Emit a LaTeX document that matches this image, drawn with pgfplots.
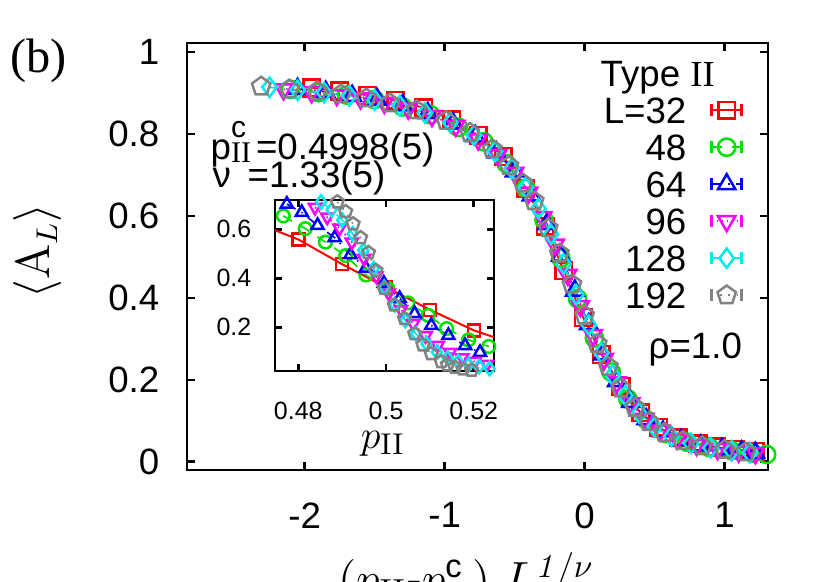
\documentclass[border=0pt]{standalone}
\usepackage{amsmath}
\usepackage[no-math]{fontspec}
\setmainfont{Liberation Sans}
\newfontfamily\serif{Liberation Serif}
\usepackage{pgfplots}
\pgfplotsset{compat=1.18}
\usetikzlibrary{plotmarks}
\definecolor{cR}{RGB}{255,0,0}
\definecolor{cG}{RGB}{0,225,0}
\definecolor{cB}{RGB}{0,0,255}
\definecolor{cM}{RGB}{255,0,255}
\definecolor{cC}{RGB}{0,235,235}
\definecolor{cK}{RGB}{130,130,130}
\pgfplotsset{
  sA/.style={color=cR, solid, line width=0.5pt, mark=square, mark options={solid, line width=0.75pt}},
  sB/.style={color=cG, dashed, line width=0.5pt, mark=o, mark options={solid, line width=0.75pt}},
  sC/.style={color=cB, dash dot, line width=0.5pt, mark=triangle, mark options={solid, line width=0.75pt}},
  sD/.style={color=cM, densely dotted, line width=0.5pt, mark=triangle, mark options={solid, line width=0.75pt, rotate=180}},
  sE/.style={color=cC, dashed, line width=0.5pt, mark=diamond, mark options={solid, line width=0.75pt}},
  sF/.style={color=cK, dotted, line width=0.5pt, mark=pentagon, mark options={solid, line width=0.75pt}},
}
\begin{document}
\begin{tikzpicture}[font=\fontsize{11}{13}\selectfont]
\begin{axis}[
  at={(0pt,0pt)}, anchor=south west,
  scale only axis, width=174.3pt, height=128.1pt,
  xmin=-2.84, xmax=1.31, ymin=-0.02, ymax=1.022,
  xtick={-2,-1,0,1}, ytick={0,0.2,0.4,0.6,0.8,1},
  /pgf/number format/assume math mode=true,
  axis line style={line width=0.8pt},
  major tick length=2.4pt,
  tick style={black, line width=0.8pt},
  xticklabel style={anchor=north, inner sep=0pt, yshift=-9.6pt},
  yticklabel style={anchor=east, inner sep=0pt, xshift=-8.1pt},
  legend plot pos=right,
  legend cell align=right,
  legend style={draw=none, fill=none, at={(0.957,0.8735)}, anchor=north east,
    inner sep=0pt, outer sep=0pt, row sep=3.2pt, column sep=7.2pt,
    nodes={inner sep=0pt, text height=7.9pt, text depth=0pt}},
  legend image code/.code={
    \draw[mark repeat=2,mark phase=2,#1] plot coordinates {(0pt,0pt) (4.5pt,0pt) (9pt,0pt)};
    \draw[#1,mark=none,solid,line width=0.8pt] (0pt,-1.8pt) -- (0pt,1.8pt) (9pt,-1.8pt) -- (9pt,1.8pt);
  },
]
\addplot[sA, mark size=2.5pt] coordinates {
(-1.95,0.912) (-1.75,0.905) (-1.55,0.894) (-1.35,0.882) (-1.15,0.864) (-0.95,0.834) (-0.76,0.797) (-0.58,0.745) (-0.42,0.667) (-0.28,0.575) (-0.15,0.466) (-0.01,0.352) (0.12,0.262) (0.26,0.184) (0.40,0.120) (0.53,0.084) (0.67,0.059) (0.81,0.044) (0.94,0.036) (1.08,0.030) (1.22,0.026)};
\addlegendentry{L=32}
\addplot[sB, mark size=2.6pt] coordinates {
(-2.10,0.909) (-1.90,0.901) (-1.70,0.895) (-1.50,0.884) (-1.30,0.866) (-1.10,0.847) (-0.90,0.816) (-0.72,0.781) (-0.56,0.728) (-0.42,0.668) (-0.29,0.590) (-0.17,0.497) (-0.05,0.398) (0.07,0.302) (0.19,0.219) (0.31,0.153) (0.44,0.103) (0.58,0.069) (0.73,0.048) (0.89,0.035) (1.05,0.027) (1.20,0.021) (1.30,0.018)};
\addlegendentry{48}
\addplot[sC, mark size=3.0pt] coordinates {
(-2.05,0.910) (-1.85,0.903) (-1.66,0.893) (-1.48,0.884) (-1.30,0.870) (-1.12,0.851) (-0.94,0.826) (-0.78,0.795) (-0.63,0.755) (-0.50,0.709) (-0.38,0.650) (-0.27,0.580) (-0.17,0.503) (-0.07,0.418) (0.03,0.336) (0.13,0.262) (0.23,0.197) (0.33,0.146) (0.44,0.104) (0.56,0.074) (0.69,0.053) (0.83,0.040) (0.98,0.031) (1.12,0.025) (1.22,0.022)};
\addlegendentry{64}
\addplot[sD, mark size=3.0pt] coordinates {
(-2.15,0.909) (-1.95,0.902) (-1.77,0.895) (-1.60,0.887) (-1.43,0.876) (-1.26,0.862) (-1.09,0.844) (-0.92,0.820) (-0.76,0.787) (-0.62,0.749) (-0.50,0.705) (-0.40,0.657) (-0.30,0.597) (-0.21,0.530) (-0.12,0.456) (-0.03,0.380) (0.06,0.309) (0.14,0.251) (0.23,0.194) (0.33,0.143) (0.43,0.105) (0.54,0.076) (0.66,0.056) (0.80,0.041) (0.95,0.031) (1.10,0.025) (1.22,0.021)};
\addlegendentry{96}
\addplot[sE, mark size=2.9pt] coordinates {
(-2.25,0.914) (-2.05,0.907) (-1.86,0.901) (-1.68,0.893) (-1.50,0.883) (-1.32,0.869) (-1.14,0.851) (-0.96,0.828) (-0.79,0.797) (-0.64,0.757) (-0.52,0.716) (-0.42,0.669) (-0.33,0.618) (-0.24,0.555) (-0.15,0.483) (-0.06,0.408) (0.03,0.334) (0.12,0.266) (0.20,0.211) (0.29,0.162) (0.39,0.119) (0.50,0.085) (0.62,0.062) (0.76,0.045) (0.90,0.034) (1.05,0.027) (1.18,0.022)};
\addlegendentry{128}
\addplot[sF, mark size=2.9pt] coordinates {
(-2.31,0.916) (-2.11,0.909) (-1.91,0.904) (-1.74,0.897) (-1.56,0.887) (-1.39,0.875) (-1.20,0.858) (-0.99,0.832) (-0.82,0.803) (-0.66,0.763) (-0.54,0.722) (-0.44,0.679) (-0.36,0.636) (-0.26,0.570) (-0.18,0.508) (-0.09,0.433) (0.00,0.357) (0.09,0.288) (0.17,0.232) (0.26,0.179) (0.36,0.132) (0.46,0.097) (0.57,0.071) (0.70,0.051) (0.84,0.038) (1.00,0.029) (1.15,0.023)};
\addlegendentry{192}
\end{axis}
\begin{axis}[
  at={(26.4pt,29.7pt)}, anchor=south west,
  scale only axis, width=65.7pt, height=51.3pt,
  xmin=0.4747, xmax=0.5246, ymin=0.022, ymax=0.72,
  xtick={0.48,0.5,0.52}, ytick={0.2,0.4,0.6},
  /pgf/number format/assume math mode=true,
  ticklabel style={font=\fontsize{7.5}{9}\selectfont},
  axis line style={line width=0.8pt},
  major tick length=2.1pt,
  tick style={black, line width=0.8pt},
  xticklabel style={anchor=north, inner sep=0pt, yshift=-9pt},
  yticklabel style={anchor=east, inner sep=0pt, xshift=-6.9pt},
]
\addplot[color=cR, solid, line width=0.6pt, forget plot] coordinates {
(0.47,0.63) (0.48,0.559) (0.49,0.458) (0.50,0.364) (0.51,0.272) (0.52,0.188) (0.53,0.127)};
\addplot[sA, only marks, mark size=1.8pt] coordinates {
(0.48,0.559) (0.49,0.458) (0.50,0.364) (0.51,0.272) (0.52,0.188)};
\addplot[sB, mark size=1.9pt] coordinates {
(0.4766,0.655) (0.4816,0.603) (0.4862,0.548) (0.4908,0.493) (0.4954,0.414) (0.5004,0.359) (0.5050,0.300) (0.5096,0.249) (0.5138,0.195) (0.5188,0.149) (0.5234,0.122)};
\addplot[sC, mark size=2.1pt] coordinates {
(0.4774,0.703) (0.4808,0.669) (0.4844,0.616) (0.4883,0.566) (0.4919,0.497) (0.4954,0.442) (0.4995,0.380) (0.5031,0.318) (0.5065,0.256) (0.5103,0.208) (0.5142,0.167) (0.5180,0.126) (0.5214,0.098)};
\addplot[sD, mark size=2.1pt] coordinates {
(0.4838,0.690) (0.4866,0.650) (0.4894,0.605) (0.4922,0.548) (0.4950,0.482) (0.4978,0.410) (0.5006,0.340) (0.5034,0.273) (0.5062,0.215) (0.5090,0.166) (0.5118,0.127) (0.5146,0.098) (0.5174,0.076) (0.5202,0.061) (0.5230,0.049)};
\addplot[sE, mark size=2.0pt] coordinates {
(0.4852,0.712) (0.4876,0.680) (0.4900,0.638) (0.4924,0.582) (0.4948,0.515) (0.4972,0.440) (0.4996,0.364) (0.5020,0.292) (0.5044,0.228) (0.5068,0.174) (0.5092,0.133) (0.5116,0.099) (0.5140,0.076) (0.5164,0.060) (0.5188,0.048) (0.5212,0.040) (0.5236,0.032)};
\addplot[sF, mark size=2.0pt] coordinates {
(0.4889,0.712) (0.4908,0.672) (0.4925,0.622) (0.4942,0.566) (0.4960,0.505) (0.4977,0.432) (0.4996,0.359) (0.5019,0.291) (0.5042,0.236) (0.5065,0.174) (0.5084,0.128) (0.5103,0.092) (0.5126,0.060) (0.5140,0.047) (0.5157,0.037) (0.5175,0.030) (0.5195,0.025)};
\end{axis}
% text
\node[anchor=base west, inner sep=0pt, font=\fontsize{14.5}{16}\selectfont\serif] at (-53.1pt,119.1pt) {(b)};
\node[anchor=base west, inner sep=0pt] at (123.9pt,114.9pt) {Type {\serif II}};
\node[anchor=base west, inner sep=0pt] at (138.3pt,33.6pt) {ρ=1.0};
\node[anchor=base west, inner sep=0pt] at (6.9pt,93pt) {p\rlap{\raisebox{6.7pt}{\fontsize{9}{9}\selectfont c}}\raisebox{-0.9pt}{\fontsize{9}{9}\selectfont\serif II}\hspace{1.5pt}=0.4998(5)};
\node[anchor=base west, inner sep=0pt] at (7.5pt,84.6pt) {ν\hspace{5pt}=1.33(5)};
\node[anchor=base, inner sep=0pt, font=\fontsize{13}{15}\selectfont] at (58.8pt,6.6pt) {$p_{\mathrm{II}}$};
\node[rotate=90, inner sep=0pt, font=\fontsize{13.5}{15}\selectfont] at (-44.7pt,65.7pt) {$\langle \mathrm{A}_L\rangle$};
\node[anchor=base, inner sep=0pt, font=\fontsize{14}{16}\selectfont] at (83.7pt,-37.5pt) {$(p_{\mathrm{II}}\text{-}p^{\text{c}}_{\mathrm{II}})\;L^{\mathit{1}/\nu}$};
\pgfresetboundingbox
\path[use as bounding box] (-56.1pt,-33.3pt) rectangle (192.9pt,141pt);
\end{tikzpicture}
\end{document}
